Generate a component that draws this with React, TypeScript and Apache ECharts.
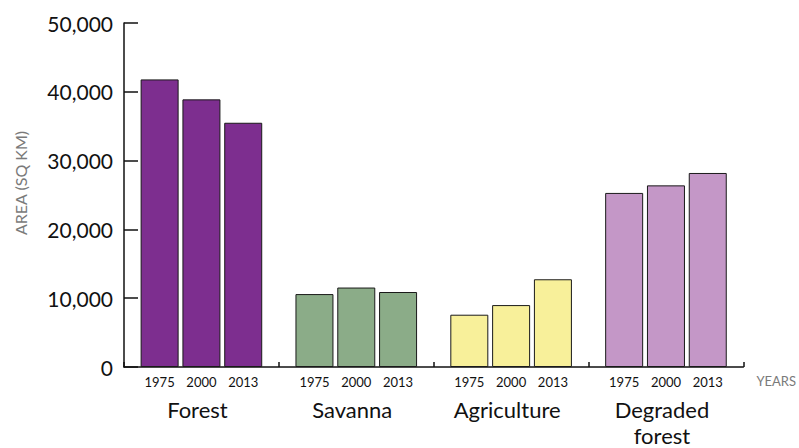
import React, { useEffect, useRef } from "react";
import * as echarts from "echarts";

const categories = ["Forest", "Savanna", "Agriculture", "Degraded forest"];
const years = ["1975", "2000", "2013"];
const values1975 = [41800, 10600, 7600, 25300];
const values2000 = [38900, 11550, 9000, 26400];
const values2013 = [35500, 10900, 12750, 28200];
const seriesValues = [values1975, values2000, values2013];
const categoryColors = ["#7d2e8f", "#8bac88", "#f8f09a", "#c497c7"];

const FONT = "Lato";

export default function App() {
  const ref = useRef<HTMLDivElement>(null);
  useEffect(() => {
    if (!ref.current) return;
    const chart = echarts.init(ref.current, null, { renderer: "svg" });
    chart.setOption({
      animation: false,
      textStyle: { fontFamily: FONT },
      grid: { left: 124, right: 55, top: 23, bottom: 81 },
      xAxis: {
        type: "category",
        data: categories,
        name: "YEARS",
        nameLocation: "end",
        nameGap: 13,
        nameTextStyle: {
          color: "#7a7a7a",
          fontSize: 13,
          fontFamily: FONT,
          verticalAlign: "top",
          padding: [7, 0, 0, 0],
        },
        axisLine: { show: true, lineStyle: { color: "#111", width: 1.5 } },
        axisTick: { show: true, inside: true, length: 5, lineStyle: { color: "#111", width: 1.5 } },
        axisLabel: {
          interval: 0,
          margin: 29,
          color: "#111",
          fontSize: 22,
          fontFamily: FONT,
          lineHeight: 26,
          formatter: (v: string) =>
            v
              .split(" ")
              .map((w) => "{c|" + w + "}")
              .join("\n"),
          rich: {
            c: { fontSize: 22, fontFamily: FONT, color: "#111", lineHeight: 26, padding: [0, 8, 0, 0] },
          },
        },
        splitLine: { show: false },
      },
      yAxis: {
        type: "value",
        min: 0,
        max: 50000,
        interval: 10000,
        name: "AREA (SQ KM)",
        nameLocation: "middle",
        nameGap: 96,
        nameTextStyle: { color: "#7a7a7a", fontSize: 16, fontFamily: FONT, padding: [0, 0, 0, 24] },
        axisLine: { show: true, lineStyle: { color: "#111", width: 1.5 } },
        axisTick: { show: true, inside: true, length: 14, lineStyle: { color: "#111", width: 1.5 } },
        axisLabel: {
          margin: 11,
          color: "#111",
          fontSize: 21,
          fontFamily: FONT,
          formatter: (v: number) => v.toLocaleString("en-US"),
        },
        splitLine: { show: false },
      },
      series: years.map((yr, si) => ({
        type: "bar",
        name: yr,
        barWidth: 38,
        barGap: "10%",
        data: seriesValues[si].map((v, ci) => ({
          value: v,
          itemStyle: { color: categoryColors[ci] },
        })),
        itemStyle: { borderColor: "#1a1a1a", borderWidth: 1 },
        label: {
          show: true,
          position: "bottom",
          distance: 8,
          formatter: yr,
          color: "#111",
          fontSize: 13,
          fontFamily: FONT,
        },
      })),
    });
    return () => chart.dispose();
  }, []);
  return <div ref={ref} style={{ width: 799, height: 448, position: "absolute", left: 0, top: 0 }} />;
}
